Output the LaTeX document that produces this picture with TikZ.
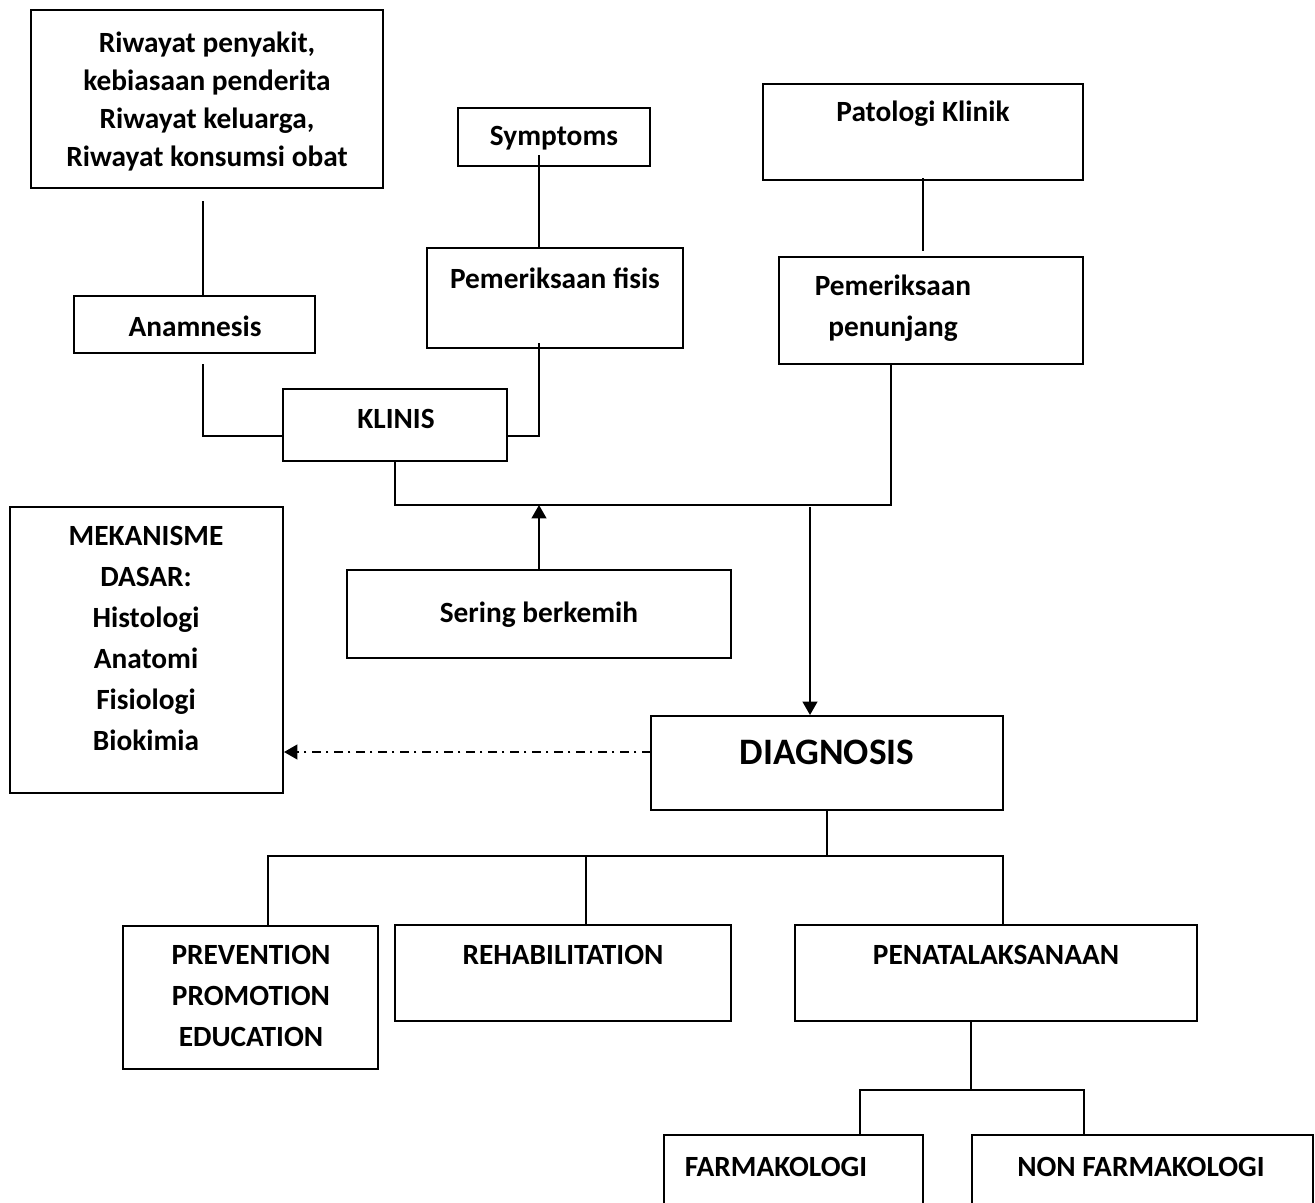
\documentclass[tikz,border=0pt]{standalone}
\usepackage{fontspec}
\setmainfont{Carlito}
\usetikzlibrary{arrows.meta}
\newcommand\mybox[5]{%
  \node[box, minimum width={(#4-#2)*0.75pt}, minimum height={(#5-#3)*0.75pt}] (#1) at ({(#2+#4)/2},{(#3+#5)/2}) {};}
\begin{document}
\begin{tikzpicture}[x=0.75pt,y=-0.75pt,
  box/.style={draw, line width=1.5pt, rectangle, inner sep=0pt},
  txt/.style={font=\bfseries\fontsize{22}{30.75}\selectfont, align=center, inner sep=0pt},
  conn/.style={line width=1.5pt},
  tip/.style={-{Triangle[length=10pt,width=11pt]}},
  dashdot/.style={dash pattern=on 7pt off 4pt on 1.5pt off 4pt}]
\useasboundingbox (0,0) rectangle (1315,1203);
\fill[white] (0,0) rectangle (1315,1203);

% boxes
\mybox{riw}{31}{10}{383}{188}
\mybox{anam}{74}{296}{315}{353}
\mybox{klinis}{283}{389}{507}{461}
\mybox{sympt}{458}{108}{650}{166}
\mybox{fisis}{427}{248}{683}{348}
\mybox{pato}{763}{84}{1083}{180}
\mybox{penun}{779}{257}{1083}{364}
\mybox{sering}{347}{570}{731}{658}
\mybox{mek}{10}{507}{283}{793}
\mybox{diag}{651}{716}{1003}{810}
\mybox{prev}{123}{926}{378}{1069}
\mybox{rehab}{395}{925}{731}{1021}
\mybox{pena}{795}{925}{1197}{1021}
\mybox{farm}{664}{1135}{923}{1230}
\mybox{nonf}{972}{1135}{1313}{1230}

% texts
\node[txt, font=\bfseries\fontsize{22}{28.5}\selectfont] (riwT) at (207,102) {Riwayat penyakit,\\kebiasaan penderita\\Riwayat keluarga,\\Riwayat konsumsi obat};
\node[txt] (anamT) at (195,326) {Anamnesis};
\node[txt] (klinisT) at (396,419) {KLINIS};
\node[txt] (symptT) at (554,138) {Symptoms};
\node[txt] (fisisT) at (555,278) {Pemeriksaan fisis};
\node[txt] (patoT) at (923,114) {Patologi Klinik};
\node[txt] (penunT) at (893,308) {Pemeriksaan\\penunjang};
\node[txt] (seringT) at (539,615) {Sering berkemih};
\node[txt] (mekT) at (146,638) {MEKANISME\\DASAR:\\Histologi\\Anatomi\\Fisiologi\\Biokimia};
\node[txt, font=\bfseries\fontsize{28}{33}\selectfont] (diagT) at (827,752) {DIAGNOSIS};
\node[txt] (prevT) at (251,996) {PREVENTION\\PROMOTION\\EDUCATION};
\node[txt] (rehabT) at (563,955) {REHABILITATION};
\node[txt] (penaT) at (996,955) {PENATALAKSANAAN};
\node[txt] (farmT) at (776,1167) {FARMAKOLOGI};
\node[txt] (nonfT) at (1141,1167) {NON FARMAKOLOGI};

% junction coordinates
\coordinate (c1) at (203,201);
\coordinate (c2) at (203,364);
\coordinate (c3) at (203,436);
\coordinate (c4) at (539,436);
\coordinate (c5) at (539,343);
\coordinate (c6) at (539,155);
\coordinate (c7) at (923,178);
\coordinate (c8) at (923,251);
\coordinate (j1) at (891,505);
\coordinate (j2) at (810,507);
\coordinate (c9) at (651,752);
\coordinate (j3) at (827,856);
\coordinate (j4) at (268,856);
\coordinate (j5) at (1003,856);
\coordinate (j6) at (586,856);
\coordinate (j7) at (971,1090);
\coordinate (j8) at (860,1090);
\coordinate (j9) at (1084,1090);

% connectors
\draw[conn] (c1) -- (anam.north -| c1);
\draw[conn] (c2) -- (c3) -- (c3 -| klinis.west);
\draw[conn] (c4 -| klinis.east) -- (c4) -- (c5);
\draw[conn] (c6) -- (fisis.north -| c6);
\draw[conn] (c7) -- (c8);
\draw[conn] (penun.south -| j1) -- (j1) -- (j1 -| klinis.south) -- (klinis.south);
\draw[conn, tip] (sering.north) -- (sering.north |- j1);
\draw[conn, tip] (j2) -- (diag.north -| j2);
\draw[conn, dashdot, tip] (c9) -- (c9 -| mek.east);
\draw[conn] (diag.south -| j3) -- (j3);
\draw[conn] (prev.north -| j4) -- (j4) -- (j5) -- (pena.north -| j5);
\draw[conn] (j6) -- (rehab.north -| j6);
\draw[conn] (pena.south -| j7) -- (j7);
\draw[conn] (farm.north -| j8) -- (j8) -- (j9) -- (nonf.north -| j9);
\end{tikzpicture}
\end{document}
